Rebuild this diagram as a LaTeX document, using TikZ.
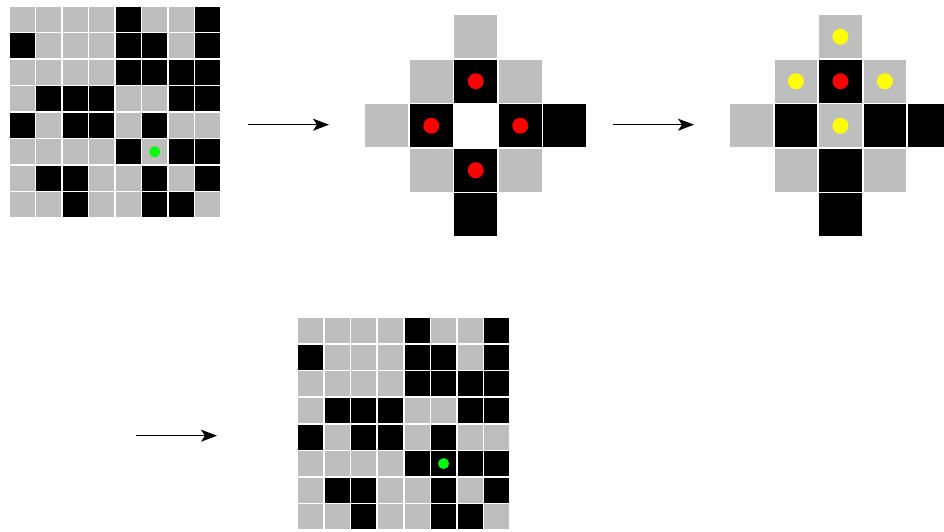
\documentclass[tikz,border=0pt]{standalone}
\usetikzlibrary{arrows.meta}
\definecolor{cellgray}{RGB}{190,190,190}
\colorlet{c0}{cellgray}
\colorlet{c1}{black}
\colorlet{cw}{white}
\definecolor{dotgreen}{RGB}{0,255,0}
\definecolor{dotred}{RGB}{255,0,0}
\definecolor{dotyellow}{RGB}{255,255,0}
\tikzset{
  cell/.style={fill=#1, draw=white, line width=1.6pt},
  flowarrow/.style={line width=1.3pt, -{Stealth[length=16pt,width=12pt,inset=4pt]}},
  dot/.style={fill=#1, draw=none}
}
\begin{document}
\begin{tikzpicture}[x=1pt,y=-1pt]
\useasboundingbox (0,0) rectangle (944,531);
% ---------- grid 1 (top left) ----------
\def\gridrows{{0,0,0,0,1,0,0,1},{1,0,0,0,1,1,0,1},{0,0,0,0,1,1,1,1},{0,1,1,1,0,0,1,1},{1,0,1,1,0,1,0,0},{0,0,0,0,1,0,1,1},{0,1,1,0,0,1,0,1},{0,0,1,0,0,1,1,0}}
\foreach \row [count=\r from 0] in \gridrows {
  \foreach \v [count=\c from 0] in \row {
    \path[cell=c\v] ({9+\c*26.5},{6+\r*26.5}) rectangle ++(26.5,26.5);
  }
}
\fill[dot=dotgreen] ({9+5.5*26.5},{6+5.5*26.5}) circle (5.5);
% ---------- grid 2 (bottom) ----------
\def\gridrowsb{{0,0,0,0,1,0,0,1},{1,0,0,0,1,1,0,1},{0,0,0,0,1,1,1,1},{0,1,1,1,0,0,1,1},{1,0,1,1,0,1,0,0},{0,0,0,0,1,1,1,1},{0,1,1,0,0,1,0,1},{0,0,1,0,0,1,1,0}}
\foreach \row [count=\r from 0] in \gridrowsb {
  \foreach \v [count=\c from 0] in \row {
    \path[cell=c\v] ({297.3+\c*26.6},{317.3+\r*26.6}) rectangle ++(26.6,26.6);
  }
}
\fill[dot=dotgreen] ({297.3+5.5*26.6},{317.3+5.5*26.6}) circle (5.5);
% ---------- middle cross ----------
\foreach \c/\r/\k in {2/0/0, 1/1/0, 2/1/1, 3/1/0, 0/2/0, 1/2/1, 2/2/w, 3/2/1, 4/2/1, 1/3/0, 2/3/1, 3/3/0, 2/4/1} {
  \path[cell=c\k] ({364.5+\c*44.5},{14.5+\r*44.5}) rectangle ++(44.5,44.5);
}
\foreach \c/\r in {2/1, 1/2, 3/2, 2/3} {
  \fill[dot=dotred] ({364.5+(\c+0.5)*44.5},{14.5+(\r+0.5)*44.5}) circle (8);
}
% ---------- right cross ----------
\foreach \c/\r/\k in {2/0/0, 1/1/0, 2/1/1, 3/1/0, 0/2/0, 1/2/1, 2/2/0, 3/2/1, 4/2/1, 1/3/0, 2/3/1, 3/3/0, 2/4/1} {
  \path[cell=c\k] ({729.2+\c*44.5},{14.5+\r*44.5}) rectangle ++(44.5,44.5);
}
\fill[dot=dotred] ({729.2+2.5*44.5},{14.5+1.5*44.5}) circle (8);
\foreach \c/\r in {2/0, 1/1, 3/1, 2/2} {
  \fill[dot=dotyellow] ({729.2+(\c+0.5)*44.5},{14.5+(\r+0.5)*44.5}) circle (8);
}
% ---------- arrows ----------
\coordinate (a1s) at (248,124.7);
\coordinate (a1e) at (329,124.7);
\coordinate (a2s) at (613,124.7);
\coordinate (a2e) at (694,124.7);
\coordinate (a3s) at (136,435.7);
\coordinate (a3e) at (217,435.7);
\draw[flowarrow] (a1s) -- (a1e);
\draw[flowarrow] (a2s) -- (a2e);
\draw[flowarrow] (a3s) -- (a3e);
\end{tikzpicture}
\end{document}
